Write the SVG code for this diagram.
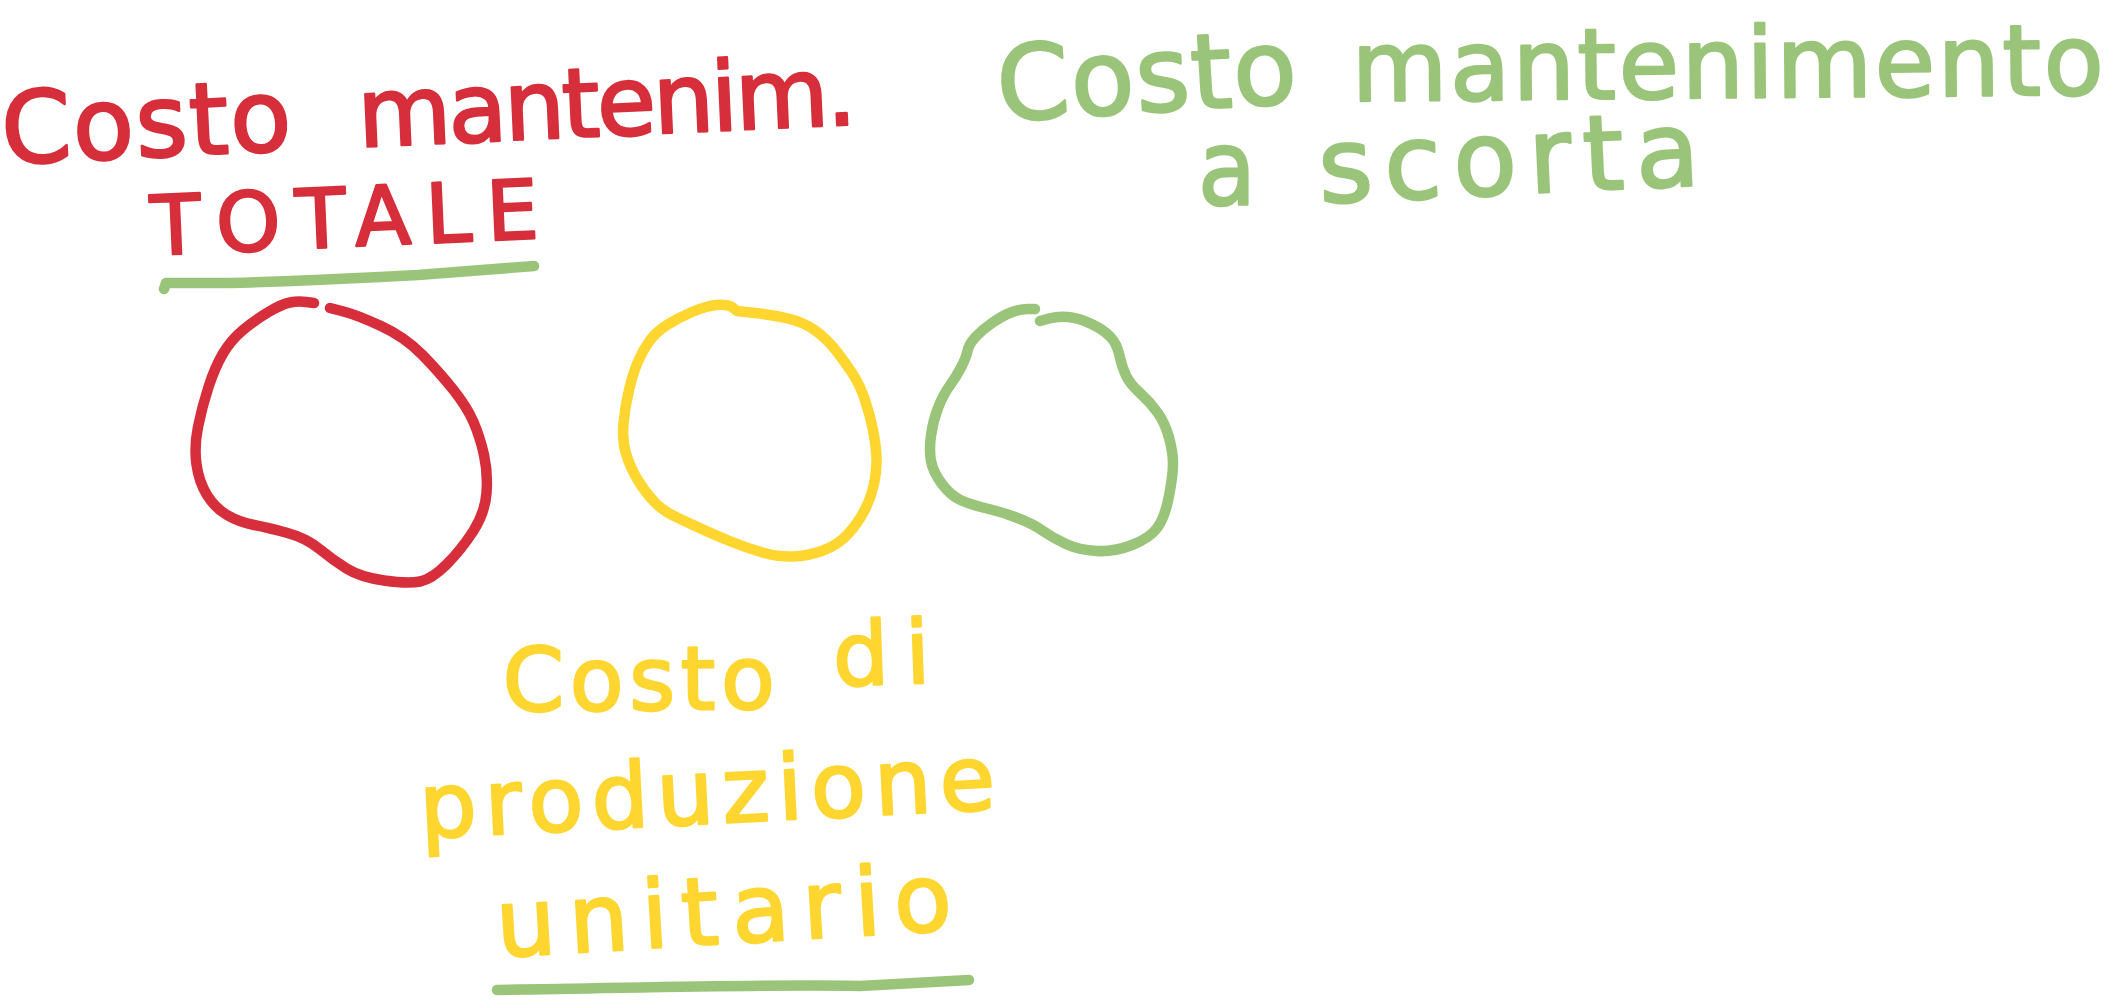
<svg xmlns="http://www.w3.org/2000/svg" width="2120" height="1000" viewBox="0 0 2120 1000">
<style>
.t{font-family:"DejaVu Sans","Liberation Sans",sans-serif;font-weight:normal;stroke-width:2.5;stroke-linejoin:round;paint-order:stroke}
.red{fill:#d62e3a;stroke:#d62e3a}
.yel{fill:#ffd630;stroke:#ffd630}
.grn{fill:#9ac47a;stroke:#9ac47a}
.s{fill:none;stroke-width:10.5;stroke-linecap:round;stroke-linejoin:round}
.sr{stroke:#d62e3a}
.sy{stroke:#ffd630}
.sg{stroke:#9ac47a}
</style>
<rect width="2120" height="1000" fill="#ffffff"/>
<g id="label-totale">
<text class="t red" x="3" y="164" font-size="100" textLength="290" lengthAdjust="spacing" transform="rotate(-2.75 3 164)">Costo</text>
<text class="t red" x="359" y="147" font-size="96" textLength="499" lengthAdjust="spacing" transform="rotate(-2.6 359 147)">mantenim.</text>
<text class="t red" x="152" y="255" font-size="82" textLength="388" lengthAdjust="spacing" transform="rotate(-2.5 152 255)">TOTALE</text>
<path class="s sg" d="M164,289 L166,283 L230,283 Q300,281 380,277 L418,275 Q480,270 534,266"/>
</g>
<g id="label-scorta">
<text class="t grn" x="999" y="121" font-size="104" textLength="300" lengthAdjust="spacing" transform="rotate(-3.5 999 121)">Costo</text>
<text class="t grn" x="1352" y="101" font-size="98" textLength="752" lengthAdjust="spacing" transform="rotate(-0.5 1352 101)">mantenimento</text>
<text class="t grn" x="1198" y="205" font-size="104" textLength="58" lengthAdjust="spacingAndGlyphs">a</text>
<text class="t grn" x="1320" y="203" font-size="104" textLength="381" lengthAdjust="spacing" transform="rotate(-2.7 1320 203)">scorta</text>
</g>
<g id="label-unitario">
<text class="t yel" x="503" y="711" font-size="88" textLength="272" lengthAdjust="spacing" transform="rotate(-0.5 503 711)">Costo</text>
<text class="t yel" x="834" y="686" font-size="88" textLength="97" lengthAdjust="spacing" transform="rotate(-2 834 686)">di</text>
<text class="t yel" x="421" y="838" font-size="90" textLength="576" lengthAdjust="spacing" transform="rotate(-2.9 421 838)">produzione</text>
<text class="t yel" x="498" y="957" font-size="94" textLength="456" lengthAdjust="spacing" transform="rotate(-3.4 498 957)">unitario</text>
<path class="s sg" d="M497,990 C640,988 760,984 860,986 L969,980"/>
</g>
<g id="blob-red">
<path class="s sr" d="M314,303 L306,302 Q298,301 290,302.5 Q282,304 268.5,312 Q255,320 243,330 Q231,340 223,353.5 Q215,367 208.5,387 Q202,407 198,427 Q194,447 196.5,464.5 Q199,482 207,495 Q215,508 227,515 Q239,522 254,525 Q269,528 287.5,533 Q306,538 319.5,549 Q333,560 346.5,568.5 Q360,577 384,580.5 Q408,584 420,581.5 Q432,579 446.5,564.5 Q461,550 473,531.5 Q485,513 486.5,493 Q488,473 484,455 Q480,437 473.5,422 Q467,407 453.5,390 Q440,373 422.5,355 Q405,337 381,326 Q357,315 343.5,311.5 L330,308"/>
</g>
<g id="blob-yellow">
<path class="s sy" d="M737,311 L755,313 Q773,315 788,318.5 Q803,322 814.5,330 Q826,338 835.5,350 Q845,362 852.5,373.5 Q860,385 865,400 Q870,415 873,430 Q876,445 876.5,457.5 Q877,470 874,484 Q871,498 864.5,510.5 Q858,523 848,534 Q838,545 823,550.5 Q808,556 793,556.5 Q778,557 762.5,552.5 Q747,548 732,542 Q717,536 704,530 Q691,524 677,517.5 Q663,511 654,501.5 Q645,492 637.5,479.5 Q630,467 626,453.5 Q622,440 623.5,423.5 Q625,407 629,390 Q633,373 638,361.5 Q643,350 649.5,341 Q656,332 667,325 Q678,318 692,312 Q706,306 716.5,305 Q727,304 732,307 L737,311 Z"/>
</g>
<g id="blob-green">
<path class="s sg" d="M1035,309 L1027.5,309 Q1020,309 1011,312.5 Q1002,316 992,323 Q982,330 975.5,337 Q969,344 967.5,351 Q966,358 961,367.5 Q956,377 949.5,386 Q943,395 938,408 Q933,421 931,435.5 Q929,450 931,461 Q933,472 942,484 Q951,496 961.5,500.5 Q972,505 987,508.5 Q1002,512 1017.5,518 Q1033,524 1043,531 Q1053,538 1066,544 Q1079,550 1096.5,551 Q1114,552 1132,545 Q1150,538 1157.5,527.5 Q1165,517 1169,496 Q1173,475 1173,463.5 Q1173,452 1169,437.5 Q1165,423 1157.5,412.5 Q1150,402 1140,393 Q1130,384 1126,375.5 Q1122,367 1119.5,355.5 Q1117,344 1110.5,337 Q1104,330 1091.5,324 Q1079,318 1068.5,317 Q1058,316 1049,318.5 L1040,321"/>
</g>
<g id="connectors"></g>
</svg>
